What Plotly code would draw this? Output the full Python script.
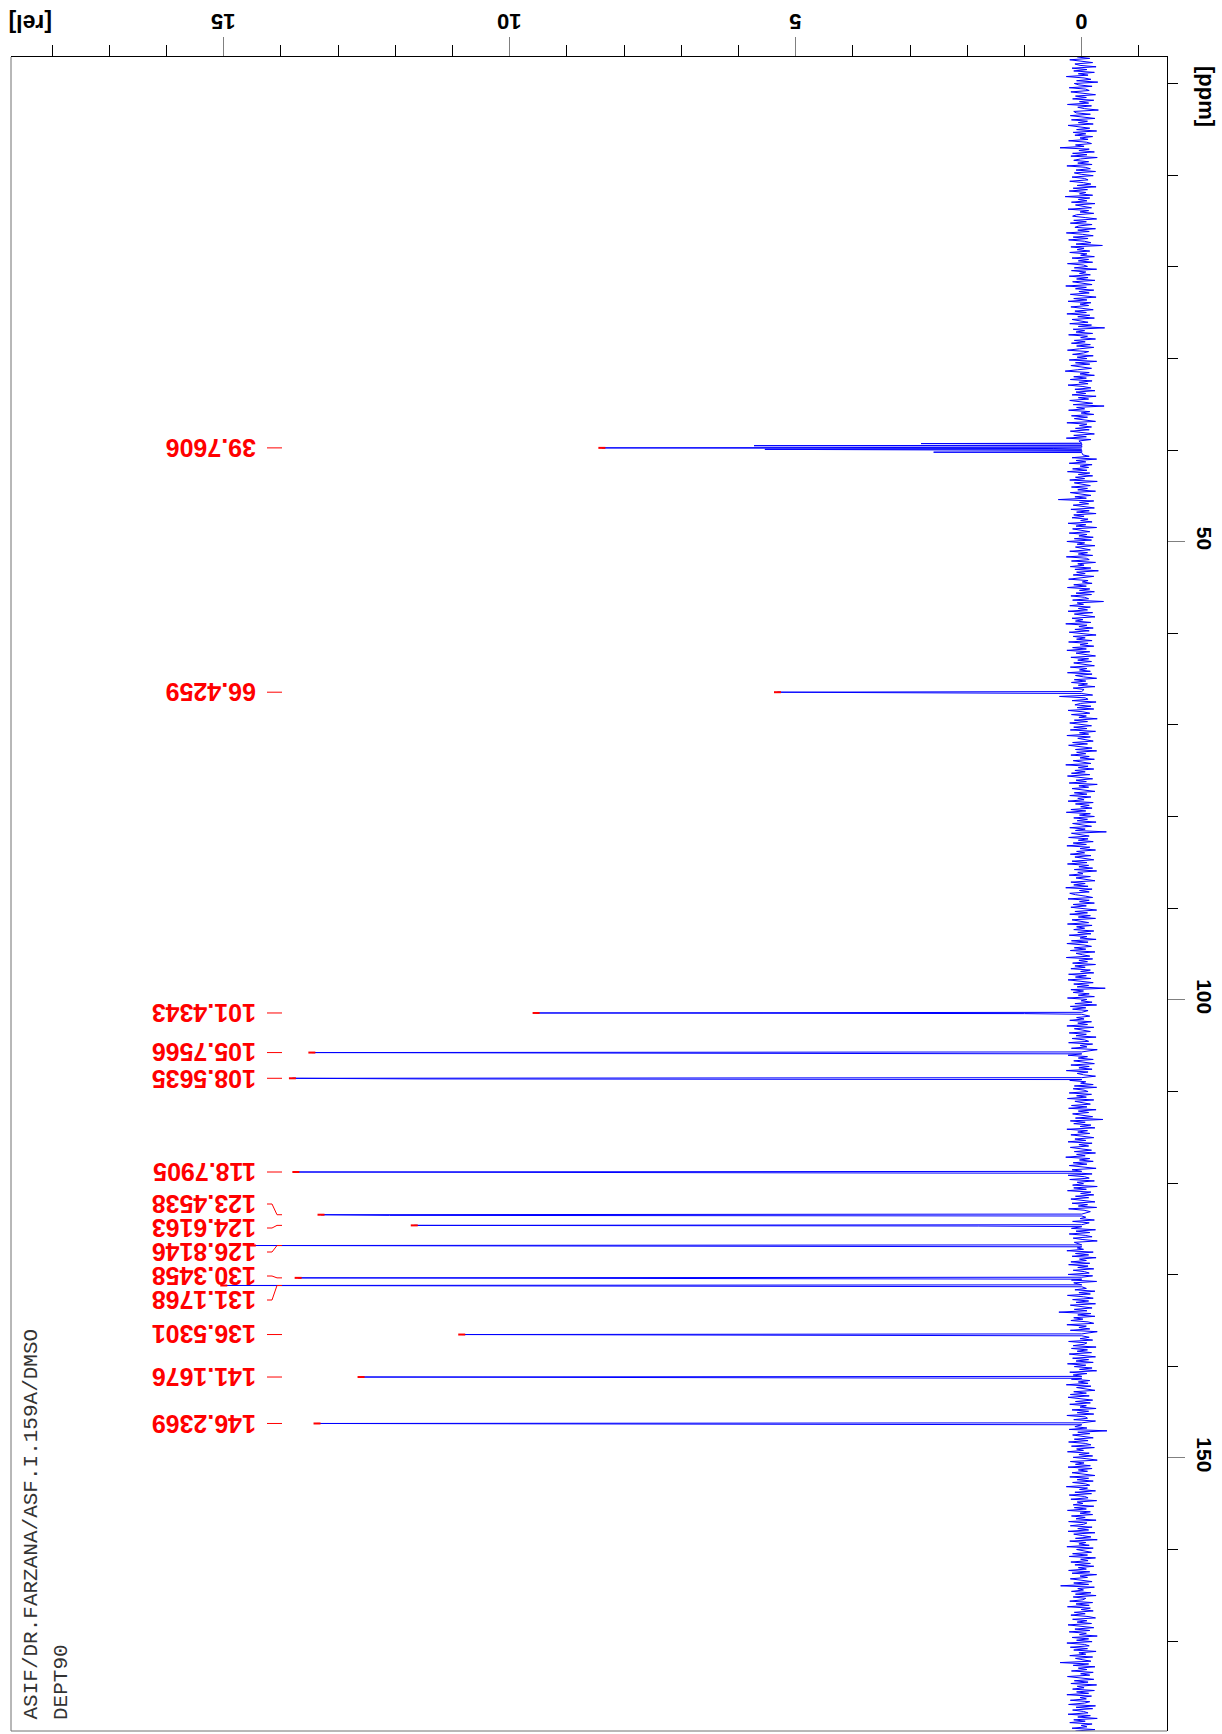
import numpy as np
import plotly.graph_objects as go

# ---------------- data ----------------
PPM_START = -2.9
PPM_END = 179.8

# baseline noise, hundredths of [rel] units, ordered from PPM_START to PPM_END
NOISE = [
    8,-14,21,-6,-19,12,3,-25,17,-9,14,-22,6,-11,27,-4,-16,9,-28,13,5,-18,22,-7,-13,19,-2,-24,11,-8,
    16,-21,4,-12,25,-17,7,-5,-29,14,10,-15,20,-3,-23,18,-10,6,-20,24,-1,-14,9,-26,15,-7,12,-19,3,-11,
    23,-8,-17,11,-4,38,-13,5,-22,16,-9,19,-27,2,14,-12,7,-18,26,-6,-15,10,-24,13,1,-20,17,-5,-11,21,
    -3,-16,8,-25,15,-10,22,-7,4,-19,29,-14,6,-9,18,-23,11,-2,-17,24,-12,3,-21,9,16,-6,-26,14,-8,20,
    -18,5,12,-24,7,-13,27,-1,-20,15,-11,23,-5,-16,10,-36,19,-4,8,-14,21,-9,2,-22,17,-12,6,-19,25,-3,
    -10,13,-26,18,-7,4,-15,22,-11,9,-23,16,-2,-18,28,-8,11,-21,5,-13,20,-6,-25,14,-9,24,-16,3,-12,19,
    -4,-20,12,-8,26,-14,7,-22,17,-1,-11,21,-17,6,-40,15,-5,10,-19,23,-10,2,-24,13,-6,18,-15,9,-21,4,
    25,-12,-3,16,-20,8,-9,22,-26,11,-14,19,-4,-17,7,29,-13,3,-22,14,-8,20,-18,5,-11,24,-2,-16,12,-23,
    10,-7,17,-25,6,-12,21,-3,-19,15,-39,9,-5,23,-14,1,-21,18,-10,13,-6,-24,26,-9,4,-17,11,-13,20,-1,
    -22,14,-8,27,-16,5,-11,19,-4,-23,12,-15,8,-20,24,-2,-13,17,-26,10,-7,22,-18,3,-12,16,-9,25,-14,6,
    -19,11,-5,21,-27,13,-3,-15,18,-10,7,-24,20,-1,-16,12,-8,41,-21,4,-12,15,-6,-22,19,-13,9,-25,14,-4,
    17,-11,2,-18,24,-7,10,-26,16,-3,-14,22,-9,5,-20,13,-17,26,-5,8,-23,11,-2,-15,21,-10,6,-19,27,-8,
    -13,18,-24,7,-4,20,-16,12,-29,9,-6,15,-21,3,23,-11,-1,-18,14,-8,25,-14,4,-22,10,-17,19,-5,-12,16,
    -38,8,-3,21,-15,6,-10,24,-19,13,-7,-23,17,-2,11,-16,28,-9,5,-20,12,-13,22,-4,-25,15,-6,9,-18,23,
    -11,3,-21,16,-8,26,-14,10,-5,-24,19,-12,7,-17,14,-1,-22,20,-9,4,-15,25,-18,11,-3,-26,13,-7,18,-10,
    6,-23,15,-4,22,-13,9,-19,39,-6,-11,17,-25,2,12,-16,8,-21,24,-2,-14,18,-8,5,-27,13,-10,21,-3,-17,
    14,-9,20,-24,4,-12,26,-15,7,-5,-20,16,-10,23,-1,-18,11,-26,9,-7,19,-13,3,-22,15,-4,-16,28,-11,6,
    -21,12,-6,18,-14,25,-3,-19,10,-8,22,-27,5,-12,17,-2,-23,13,-9,21,-16,7,-4,24,-20,11,-13,2,-18,19,
    -7,27,-15,4,-22,14,-10,8,-25,16,-1,-17,21,-6,11,-43,18,-3,-13,23,-11,6,-20,15,-8,26,-14,3,-24,9,
    -5,20,-16,12,-3,-21,17,-9,25,-12,5,-19,13,-26,7,-2,22,-15,10,-8,-23,19,-6,14,-11,28,-18,4,-13,21,
    11,-6,-19,24,-13,4,-22,15,-8,19,-3,-26,12,-10,21,-15,6,-24,17,-2,-12,25,-18,9,-5,14,-21,7,-16,22,
    -9,3,-25,18,-11,26,-4,-17,13,-7,20,-23,10,-1,-14,27,-19,5,-10,16,-24,12,-6,19,-15,2,-21,23,-8,11,
    -16,24,-5,-20,14,-12,8,-41,19,-3,15,-13,6,-22,25,-9,1,-18,12,-26,20,-7,16,-11,4,-23,18,-14,9,-4,
    21,-17,7,-10,26,-21,13,-2,-15,22,-8,10,-25,17,-5,-12,23,-19,3,-9,18,-27,11,-1,-16,24,-10,6,-20,14,
    -6,-22,19,-13,5,-18,27,-11,8,-3,-24,16,-14,21,-7,2,-20,13,-26,15,-4,-11,22,-17,9,-8,25,-21,12,-2,
    -15,18,-9,23,-25,6,-12,16,-4,-19,11,-37,20,-6,14,-16,3,-23,26,-10,7,-14,19,-2,-21,12,-7,24,-18,5,
    -12,20,-3,-17,13,-24,9,-6,28,-14,4,-20,15,-9,22,-1,-25,17,-11,10,-18,24,-5,-13,21,-22,8,-3,16,-27,
    14,-8,25,-16,2,-21,11,-12,19,-5,-23,17,-10,6,-26,23,-4,-15,12,-19,27,-7,3,-22,16,-13,20,-9,-1,18,
    -24,10,-14,22,-6,-18,15,-2,-27,13,-9,21,-16,8,-3,26,-20,11,-12,17,-25,4,-8,19,-14,23,-11,7,-21,15,
    -5,-13,24,-19,9,-10,18,-26,14,-4,-17,22,-8,12,-23,5,-15,25,-3,-20,16,-12,10,-24,20,-6,-18,13,-9,40,
    -16,7,-23,14,-2,19,-11,-21,26,-8,5,-14,20,-27,11,-6,17,-13,3,-19,23,-9,-4,15,-25,18,-10,8,-17,22,
    -3,-24,16,-12,10,-20,25,-7,13,-18,4,-26,21,-9,15,-1,-22,18,-14,6,-11,27,-16,9,-5,-23,14,-8,20,-13,
    24,-4,-19,11,-15,21,-8,3,-25,17,-12,8,-21,26,-6,-10,14,-24,19,-2,-17,12,-9,22,-44,7,-14,16,-5,-20,
    13,-11,23,-6,-16,18,-22,9,-3,25,-13,5,-19,15,-9,-27,20,-4,11,-15,24,-18,6,-10,17,-1,-23,21,-12,8,
    -20,16,-7,-14,27,-10,4,-24,12,-17,22,-5,-11,19,-26,8,-2,15,-21,13,-8,25,-15,3,-19,18,-6,10,-25,23,
    -9,-3,20,-18,7,-12,24,-23,14,-1,-16,11,-27,21,-7,5,-13,26,-20,9,-4,-17,16,-10,22,-24,2,-11,19,-15,
    12,-21,6,-8,23,-14,17,-26,3,-10,20,-5,-18,14,-12,37,-22,7,-3,18,-16,11,-25,15,-7,-2,21,-19,10,-13,
    25,-15,1,-20,13,-6,19,-11,-24,16,-9,8,-17,24,-4,-21,12,-14,22,-8,4,-27,17,-12,9,-18,26,-5,-13,20,
    -10,14,-25,5,-7,21,-19,11,-2,-16,38,-12,15,-23,6,-9,18,-20,2,-14,25,-6,-21,13,-11,19,-26,8,-4,16,
    -22,9,-12,26,-17,3,-8,20,-14,-5,23,-24,10,-19,16,-3,-11,24,-15,7,-27,14,-6,21,-18,1,-9,17,-23,11,
]

PEAK_PPM = [39.7606, 66.4259, 101.4343, 105.7566, 108.5635, 118.7905, 123.4538,
            124.6163, 126.8146, 130.3458, 131.1768, 136.5301, 141.1676, 146.2369]
PEAK_HEIGHT = [8.39, 5.32, 9.54, 13.46, 13.80, 13.74, 13.30,
               11.67, 14.50, 13.70, 15.00, 10.84, 12.60, 13.37]
PEAK_SHOULDER = [0.5, 3.44, 1.0, 1.0, 11.5, 2.4, 12.1,
                 1.8, 4.8, 1.8, 1.7, 4.63, 0.7, 5.4]

# residual solvent multiplet lines around the 39.76 ppm label
SOLVENT_PPM = [39.29, 39.52, 39.92, 40.00, 40.23]
SOLVENT_HEIGHT = [2.81, 5.73, 5.54, 3.72, 2.59]

X_TICKS = [0, 5, 10, 15]
Y_TICKS = [50, 100, 150]

TITLE_LINES = ["ASIF/DR.FARZANA/ASF.I.159A/DMSO", "DEPT90"]

# ---------------- layout constants ----------------
W, H = 1222, 1734
L, R, T, B = 11, 1167, 57, 1731          # plot area in px
X_RANGE = [18.72, -1.49]                 # [rel], left -> right
Y_RANGE = [179.8, -2.9]                  # ppm, bottom -> top


def px_x(p):
    return (p - L) / (R - L)


def paper_y(py):
    return 1 - (py - T) / (B - T)


def ppm_at_px(py):
    return Y_RANGE[1] + (py - T) / (B - T) * (Y_RANGE[0] - Y_RANGE[1])


# label positions (ppm) where labels are spread out
LABEL_SHIFT = {123.4538: ppm_at_px(1204), 124.6163: ppm_at_px(1228),
               126.8146: ppm_at_px(1252), 130.3458: ppm_at_px(1276),
               131.1768: ppm_at_px(1300)}

# ---------------- build spectrum ----------------
grid = np.linspace(PPM_START, PPM_END, len(NOISE))
noise = np.array(NOISE) / 100.0
special = PEAK_PPM + SOLVENT_PPM
pts = [(g, n) for g, n in zip(grid, noise)
       if min(abs(g - s) for s in special) > 0.2]
for p, h, s in zip(PEAK_PPM, PEAK_HEIGHT, PEAK_SHOULDER):
    pts += [(p - 0.07, 0.0), (p, h), (p + 0.07, s), (p + 0.14, 0.0)]
for p, h in zip(SOLVENT_PPM, SOLVENT_HEIGHT):
    pts += [(p - 0.04, 0.0), (p, h), (p + 0.04, 0.0)]
pts.sort(key=lambda t: t[0])
spec_ppm = [t[0] for t in pts]
spec_int = [t[1] for t in pts]

fig = go.Figure()
fig.add_trace(go.Scatter(x=spec_int, y=spec_ppm, mode="lines",
                         line=dict(color="#0000ff", width=1), hoverinfo="skip"))
fig.add_trace(go.Scatter(x=PEAK_HEIGHT, y=PEAK_PPM, mode="markers",
                         marker=dict(symbol="line-ew", size=5,
                                     line=dict(color="#ff0000", width=2)),
                         hoverinfo="skip"))

FONT = "Arial, Liberation Sans, sans-serif"
LABEL_FONT = "Liberation Sans Narrow, Arial Narrow, Arial, Liberation Sans, sans-serif"

# peak labels and connectors
for p in PEAK_PPM:
    ly = LABEL_SHIFT.get(p, p)
    fig.add_annotation(x=px_x(258), xref="paper", y=ly, yref="y",
                       text=f"{p:.4f}", showarrow=False, textangle=180,
                       xanchor="right", yanchor="middle",
                       font=dict(family=LABEL_FONT, size=25, color="#ff0000", weight="bold"))
    fig.add_shape(type="path", xref="paper", yref="y",
                  path=(f"M {px_x(267)},{ly} L {px_x(272)},{ly} "
                        f"L {px_x(277)},{p} L {px_x(282)},{p}"),
                  line=dict(color="#ff0000", width=1))

# intensity tick labels (upside down, above the frame)
for v in X_TICKS:
    fig.add_annotation(x=v, xref="x", y=paper_y(22), yref="paper",
                       xanchor="center", yanchor="middle", text=str(v),
                       showarrow=False, textangle=180,
                       font=dict(family=FONT, size=22, color="black", weight="bold"))

# axis-unit labels
fig.add_annotation(x=px_x(31), xref="paper", y=paper_y(23), yref="paper",
                   xanchor="center", yanchor="middle",
                   text="[rel]", showarrow=False, textangle=180,
                   font=dict(family=FONT, size=23, color="black", weight="bold"))
fig.add_annotation(x=px_x(1207), xref="paper", y=ppm_at_px(96), yref="y",
                   xanchor="center", yanchor="middle",
                   text="[ppm]", showarrow=False, textangle=90,
                   font=dict(family=FONT, size=22, color="black", weight="bold"))

# title lines at bottom-left, rotated
for i, line in enumerate(TITLE_LINES):
    fig.add_annotation(x=px_x(31 + 30 * i), xref="paper", y=ppm_at_px(1722), yref="y",
                       xanchor="center", yanchor="bottom", text=line, showarrow=False,
                       textangle=-90,
                       font=dict(family="Liberation Mono, Courier New, monospace",
                                 size=21, color="#333333"))

# left & bottom frame in grey
fig.add_shape(type="line", xref="paper", yref="paper", x0=0, x1=0, y0=0, y1=1,
              line=dict(color="#707070", width=1))
fig.add_shape(type="line", xref="paper", yref="paper", x0=0, x1=1, y0=0, y1=0,
              line=dict(color="#707070", width=1))

fig.update_layout(
    width=W, height=H,
    margin=dict(l=L, r=W - R, t=T, b=H - B, pad=0),
    paper_bgcolor="white", plot_bgcolor="white",
    showlegend=False,
    xaxis=dict(range=X_RANGE, side="top", showgrid=False, zeroline=False,
               showline=True, linecolor="black", linewidth=1,
               tickmode="array", tickvals=X_TICKS, showticklabels=False,
               ticks="outside", ticklen=19, tickcolor="#808080", tickwidth=1,
               minor=dict(tickmode="linear", tick0=0, dtick=1, ticks="outside",
                          ticklen=11, tickcolor="black", tickwidth=1, showgrid=False)),
    yaxis=dict(range=Y_RANGE, side="right", showgrid=False, zeroline=False,
               showline=True, linecolor="black", linewidth=1,
               tickmode="array", tickvals=Y_TICKS, ticktext=[str(v) for v in Y_TICKS],
               ticks="outside", ticklen=17, tickcolor="#808080", tickwidth=1,
               tickangle=90, ticklabelstandoff=4,
               tickfont=dict(family=FONT, size=21, color="black", weight="bold"),
               minor=dict(tickmode="linear", tick0=0, dtick=10, ticks="outside",
                          ticklen=10, tickcolor="black", tickwidth=1, showgrid=False)),
)

fig.write_html("out.html", config={"displayModeBar": False},
               post_script="document.body.style.margin='0';")
